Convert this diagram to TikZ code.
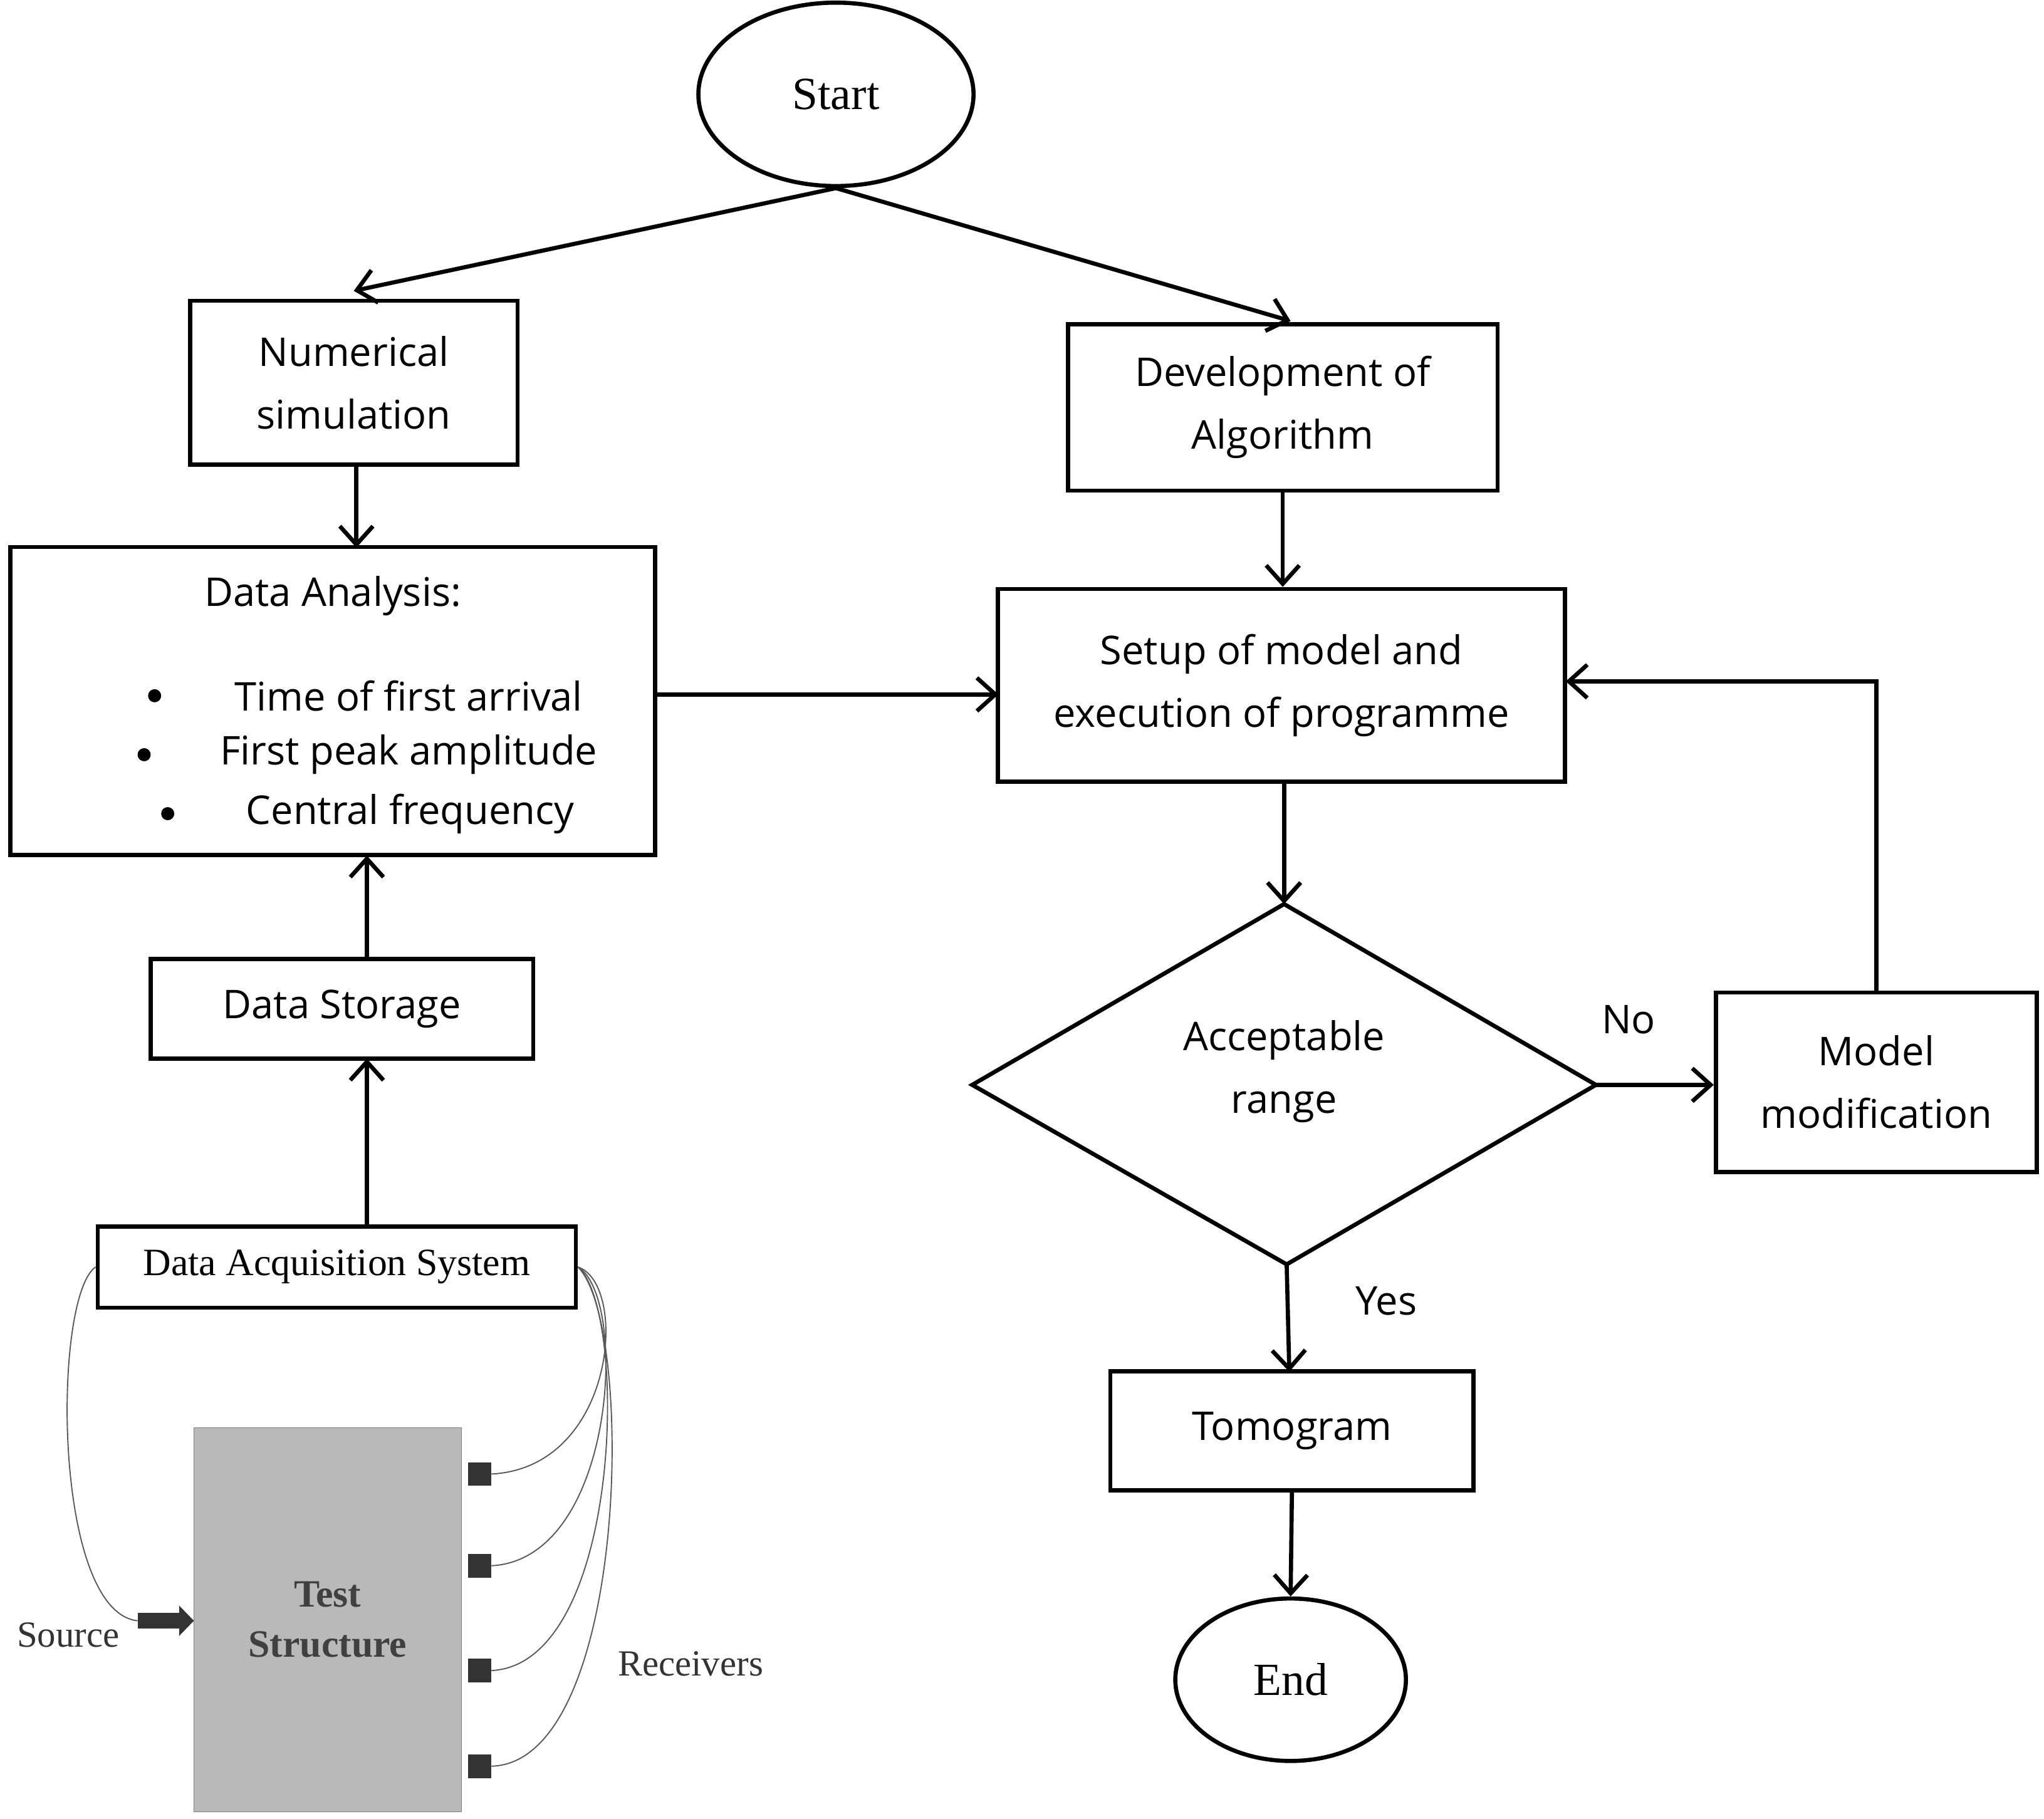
\documentclass[tikz,border=0pt]{standalone}
\usepackage{fontspec}
\setmainfont{Open Sans}
\newfontfamily\serif{Liberation Serif}
\usetikzlibrary{arrows.meta,shapes.geometric}
\def\uu{1.4226}
\begin{document}
\begin{tikzpicture}[x=0.05cm,y=-0.05cm,
 box/.style={draw,line width=4.5pt,rectangle,inner sep=0,align=center,font=\fontsize{43}{68}\selectfont},
 ell/.style={draw,line width=4.5pt,ellipse,inner sep=0,font=\serif\fontsize{50}{56}\selectfont},
 arr/.style={line width=4.5pt,-{Straight Barb[length=20pt,width=36pt,line width=4.5pt]}},
 lbl/.style={font=\fontsize{43}{50}\selectfont},
 wire/.style={line width=1.3pt,gray!70!black}]
\useasboundingbox (0,0) rectangle (1560,1388);
\node[ell,minimum width=\uu*210pt,minimum height=\uu*140pt] (start) at (638,72) {Start};
\node[box,minimum width=\uu*250pt,minimum height=\uu*125pt] (num) at (270,292) {Numerical\\simulation};
\node[box,minimum width=\uu*328pt,minimum height=\uu*127pt] (dev) at (979,311) {Development of\\Algorithm};
\node[box,minimum width=\uu*492pt,minimum height=\uu*235pt] (da) at (254,535) {};
\node[lbl] (dat) at (254,455) {Data Analysis:};
\node[lbl] (b1) at (312,531) {Time of first arrival};
\node[lbl] (b2) at (312,576) {First peak amplitude};
\node[lbl] (b3) at (313,621) {Central frequency};
\fill (118,531) circle (5) (110,576) circle (5) (128,621) circle (5);
\node[box,minimum width=\uu*433pt,minimum height=\uu*147pt] (setup) at (978,523) {Setup of model and\\execution of programme};
\node[box,minimum width=\uu*292pt,minimum height=\uu*76pt] (ds) at (261,770) {Data Storage};
\coordinate (dT) at (980,690); \coordinate (dB) at (982,965);
\coordinate (dL) at (742,828); \coordinate (dR) at (1218,828);
\draw[line width=4.5pt,line join=miter] (dT)--(dR)--(dB)--(dL)--cycle;
\node[lbl,align=center,font=\fontsize{43}{68}\selectfont] (acc) at (980,818) {Acceptable\\range};
\node[box,minimum width=\uu*245pt,minimum height=\uu*137pt] (mm) at (1432,826) {Model\\modification};
\node[box,minimum width=\uu*277pt,minimum height=\uu*91pt] (tom) at (986,1092) {Tomogram};
\node[ell,minimum width=\uu*176pt,minimum height=\uu*124pt] (end) at (985,1282) {End};
\node[box,minimum width=\uu*365pt,minimum height=\uu*62pt,font=\serif\fontsize{42}{46}\selectfont] (das) at (257,967) {Data Acquisition System};
% arrows
\draw[arr] (start.south) -- (270,222);
\draw[arr] (start.south) -- (985,245);
\draw[arr] (272,355) -- (272,418);
\draw[arr] (dev.south) -- (dev.south |- setup.north);
\draw[arr] (500,530) -- (762,530);
\draw[arr] (980,597) -- (dT);
\draw[arr] (dR) -- (mm.west |- dR);
\node[lbl] (no) at (1243,778) {No};
\draw[arr] (mm.north) -- (1432,520) -- (1195,520);
\draw[arr] (dB) -- (984,1047);
\node[lbl] (yes) at (1058,993) {Yes};
\draw[arr] (tom.south) -- (end.north);
\draw[arr] (280,732) -- (280,653);
\draw[arr] (280,936) -- (280,808);
% test structure
\node[draw=gray,fill=gray!55,minimum width=\uu*204pt,minimum height=\uu*293pt,inner sep=0,align=center,font=\serif\bfseries\fontsize{42}{54}\selectfont,text=black!75] (ts) at (250,1236) {Test\\Structure};
\foreach \y/\n in {1125/r1,1195/r2,1275/r3,1348/r4}{
 \node[fill=gray!40!black,minimum size=\uu*18pt,inner sep=0] (\n) at (366,\y) {};
}
\draw[wire] (das.east) .. controls (480,980) and (470,1120) .. (r1.east);
\draw[wire] (das.east) .. controls (480,990) and (470,1190) .. (r2.east);
\draw[wire] (das.east) .. controls (480,1000) and (475,1270) .. (r3.east);
\draw[wire] (das.east) .. controls (485,1010) and (480,1345) .. (r4.east);
\coordinate (src) at (105,1237);
\draw[wire] (das.west) .. controls (40,990) and (40,1230) .. (src);
\draw[gray!40!black,line width=17pt,-{Triangle[length=16pt,width=32pt]}] (src) -- (148,1237);
\node[font=\serif\fontsize{40}{44}\selectfont,text=black!80] (srcl) at (52,1248) {Source};
\node[font=\serif\fontsize{40}{44}\selectfont,text=black!80] (recl) at (527,1270) {Receivers};
\end{tikzpicture}
\end{document}
